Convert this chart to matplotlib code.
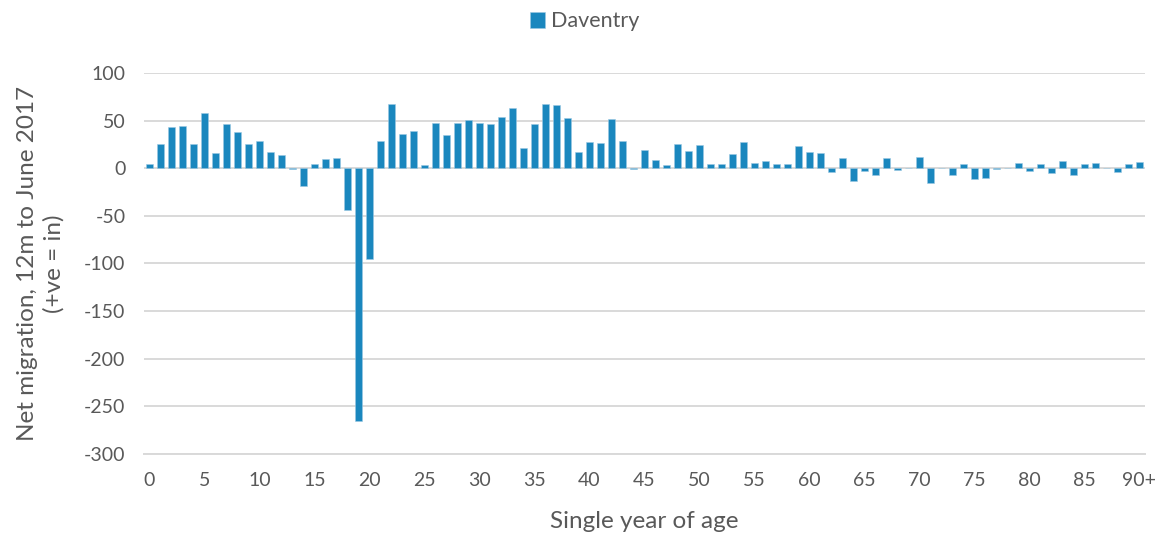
import numpy as np
import matplotlib.pyplot as plt

plt.rcParams['font.family'] = ['Lato', 'DejaVu Sans']

# net migration by single year of age, 0..90+
ages = list(range(91))
net_migration = [
    4, 25, 43, 44, 25, 58, 16, 46, 38, 25,
    29, 17, 14, -1, -19, 4, 10, 11, -44, -265,
    -95, 29, 67, 36, 39, 3, 48, 35, 47, 51,
    48, 46, 54, 63, 21, 46, 67, 66, 53, 17,
    28, 27, 52, 29, -1, 19, 9, 3, 25, 18,
    24, 4, 4, 15, 28, 5, 8, 4, 4, 23,
    17, 16, -4, 11, -13, -3, -7, 11, -2, 0.5,
    12, -15, 0, -7, 4, -11, -10, -1, 0.5, 5,
    -3, 4, -5, 8, -7, 4, 5, 0, -4, 4,
    7,
]
tick_pos = list(range(0, 91, 5))
tick_labels = [str(t) for t in range(0, 90, 5)] + ['90+']
y_ticks = [100, 50, 0, -50, -100, -150, -200, -250, -300]

bar_color = '#1a87be'
grid_color = '#d9d9d9'
text_color = '#595959'

fig = plt.figure(figsize=(11.62, 5.36), dpi=100)
ax = fig.add_axes([0.1235, 0.153, 0.862, 0.7108])

ax.bar(ages, net_migration, width=0.65, color=bar_color, label='Daventry',
       edgecolor='#9cc9e3', linewidth=0.4, zorder=3)

ax.set_xlim(-0.55, 90.55)
ax.set_ylim(-300, 100)
ax.set_yticks(y_ticks)
ax.set_yticklabels([str(v) for v in y_ticks])
ax.set_xticks(tick_pos)
ax.set_xticklabels(tick_labels)

ax.yaxis.grid(True, color=grid_color, linewidth=1.4, zorder=0)
ax.axhline(0, color=grid_color, linewidth=1.4, zorder=2)
for s in ax.spines.values():
    s.set_visible(False)
ax.spines['bottom'].set_visible(True)
ax.spines['bottom'].set_color(grid_color)
ax.spines['bottom'].set_linewidth(1.4)
ax.tick_params(length=0, labelsize=14, labelcolor=text_color)
ax.tick_params(axis='x', pad=13)
ax.tick_params(axis='y', pad=13)

ax.set_xlabel('Single year of age', fontsize=17.5, color=text_color, labelpad=16)
ax.set_ylabel('Net migration, 12m to June 2017\n(+ve = in)', fontsize=17.5,
              color=text_color, labelpad=14, linespacing=1.3)

fig.legend(loc='upper center', bbox_to_anchor=(0.503, 1.015), frameon=False,
           fontsize=15.5, handlelength=0.7, handleheight=0.8, handletextpad=0.3,
           labelcolor=text_color)

fig.savefig('out.png', dpi=100, facecolor='white')
